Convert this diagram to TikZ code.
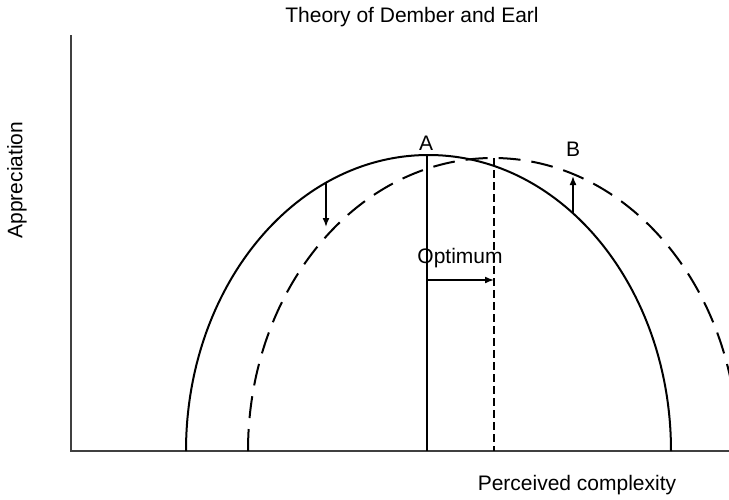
\documentclass[tikz,border=0pt]{standalone}
\usepackage{fontspec}
\setmainfont{Liberation Sans}
\usepackage{tikz}
\usetikzlibrary{calc,arrows.meta}

\begin{document}
\begin{tikzpicture}[x=1pt,y=-1pt,
    every node/.style={font=\fontsize{21}{25}\selectfont},
    curve/.style={line width=2pt},
    arr/.style={-{Latex[length=9pt,width=7pt]},line width=1.6pt}]
    \useasboundingbox (0,0) rectangle (729,499);
    \clip (0,0) rectangle (729,499);
    % Define points
    \coordinate (O) at (71,451);
    \coordinate (Ytop) at (71,35);
    \coordinate (Xend) at (729,451);
    \coordinate (A) at (427,155);
    \coordinate (Abase) at (427,451);
    \coordinate (Bt) at (494,158);
    \coordinate (Bbase) at (494,451);
    % Axes
    \draw[line width=2pt, black!75] (Ytop) -- (O) -- (Xend);
    % Draw curves
    \draw[curve] (186,451) arc[start angle=180, end angle=360,
        x radius=242.5, y radius=296];
    \draw[curve, dash pattern=on 22pt off 11pt] (248,451) arc[start angle=180,
        end angle=360, x radius=245, y radius=293];
    % Optimum lines
    \draw[line width=1.8pt] (A) -- (Abase);
    \draw[line width=1.8pt, dash pattern=on 8pt off 4pt] (Bt) -- (Bbase);
    % Shifts
    \coordinate (d1) at (326,183);
    \coordinate (d2) at (326,227);
    \draw[arr] (d1) -- (d2);
    \coordinate (u1) at (573,213);
    \coordinate (u2) at (573,176);
    \draw[arr] (u1) -- (u2);
    \coordinate (o1) at (427,280);
    \coordinate (o2) at (494,280);
    \draw[arr] (o1) -- (o2);
    % Labels
    \node (title) at (412,17) {Theory of Dember and Earl};
    \node (ylab) [rotate=90] at (17,180) {Appreciation};
    \node (xlab) at (577,485) {Perceived complexity};
    \node (labA) at (426,143) {A};
    \node (labB) at (573,149) {B};
    \node (opt) at (460,258) {Optimum};
\end{tikzpicture}
\end{document}
